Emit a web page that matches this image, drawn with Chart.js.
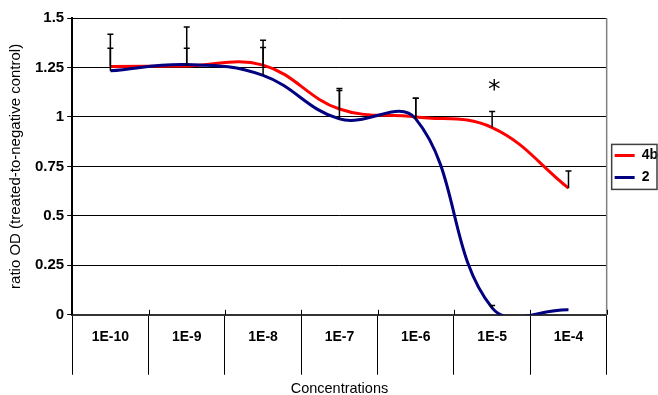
<!DOCTYPE html>
<html>
<head>
<meta charset="utf-8">
<script src="https://cdn.jsdelivr.net/npm/chart.js@4"></script>
<style>
body { margin: 0; background: #fff; }
</style>
</head>
<body>
<canvas id="myChart" width="658" height="395"></canvas>
<script>
// concentrations on the x axis
var categories = ['1E-10', '1E-9', '1E-8', '1E-7', '1E-6', '1E-5', '1E-4'];
// ratio OD, compound 4b and its error (upper bar only)
var series4b = [1.255, 1.258, 1.262, 1.04, 1.0, 0.946, 0.64];
var err4b = [0.092, 0.089, 0.089, 0.094, 0.095, 0.082, 0.087];
// ratio OD, compound 2 and its error
var series2 = [1.233, 1.265, 1.21, 0.99, 0.99, 0.035, 0.025];
var err2 = [0.185, 0.19, 0.178, 0.154, 0.105, 0.012, 0];
var yTicks = [0, 0.25, 0.5, 0.75, 1, 1.25, 1.5];
// significance mark
var starCategory = '1E-5';
var starValue = 1.155;

var FONT = "'Liberation Sans', Arial, sans-serif";

// error bars, asterisk, plot border and legend box
var extras = {
    id: 'extras',
    afterDatasetsDraw: function (chart) {
        var ctx = chart.ctx;
        var x = chart.scales.x, y = chart.scales.y;
        ctx.save();
        ctx.strokeStyle = '#000';
        ctx.lineWidth = 1.5;
        [[series4b, err4b], [series2, err2]].forEach(function (s) {
            s[0].forEach(function (v, i) {
                if (!s[1][i]) return;
                var px = x.getPixelForValue(i);
                var y0 = y.getPixelForValue(v);
                var y1 = y.getPixelForValue(v + s[1][i]);
                ctx.beginPath();
                ctx.moveTo(px, y0);
                ctx.lineTo(px, y1);
                ctx.moveTo(px - 3, y1);
                ctx.lineTo(px + 3, y1);
                ctx.stroke();
            });
        });
        // asterisk
        ctx.fillStyle = '#000';
        ctx.font = "25px 'DejaVu Sans'";
        ctx.textAlign = 'center';
        ctx.textBaseline = 'alphabetic';
        ctx.fillText('*', x.getPixelForValue(categories.indexOf(starCategory)) + 2, y.getPixelForValue(starValue) + 11);
        ctx.restore();
    },
    afterDraw: function (chart) {
        var ctx = chart.ctx;
        var x = chart.scales.x;
        var area = chart.chartArea;
        ctx.save();
        // right edge of the plot
        ctx.strokeStyle = '#808080';
        ctx.lineWidth = 1.5;
        ctx.beginPath();
        ctx.moveTo(area.right, area.top);
        ctx.lineTo(area.right, area.bottom);
        ctx.stroke();
        // small cross ticks above the category axis
        ctx.strokeStyle = '#000';
        ctx.lineWidth = 1;
        for (var i = 0; i <= categories.length; i++) {
            var bx = Math.round(x.getPixelForValue(i - 0.5)) + 0.5;
            ctx.beginPath();
            ctx.moveTo(bx, area.bottom - 5);
            ctx.lineTo(bx, area.bottom);
            ctx.stroke();
        }
        // legend frame
        var hb = chart.legend.legendHitBoxes;
        if (hb && hb.length) {
            var l = hb[0].left - 3;
            var t = hb[0].top - 4;
            var b = hb[hb.length - 1].top + hb[hb.length - 1].height + 5;
            ctx.strokeStyle = '#404040';
            ctx.lineWidth = 1.5;
            ctx.strokeRect(l, t, chart.width - 1 - l, b - t);
        }
        ctx.restore();
    }
};

var ctx = document.getElementById('myChart').getContext('2d');
var myChart = new Chart(ctx, {
    type: 'line',
    data: {
        labels: categories,
        datasets: [{
            label: '4b',
            data: series4b,
            borderColor: '#ff0000',
            backgroundColor: '#ff0000',
            borderWidth: 3,
            pointRadius: 0,
            tension: 0.4,
            order: 1
        }, {
            label: '2',
            data: series2,
            borderColor: '#000080',
            backgroundColor: '#000080',
            borderWidth: 3,
            pointRadius: 0,
            tension: 0.4,
            order: 0
        }]
    },
    options: {
        responsive: false,
        animation: false,
        devicePixelRatio: 1,
        elements: { line: { capBezierPoints: false } },
        layout: { padding: { left: 0, top: 18, right: -10, bottom: 0 } },
        plugins: {
            tooltip: { enabled: false },
            legend: {
                position: 'right',
                fullSize: false,
                labels: {
                    usePointStyle: true,
                    pointStyle: 'line',
                    pointStyleWidth: 20,
                    padding: 8,
                    color: '#000',
                    font: { family: FONT, size: 14, weight: 'bold' },
                    sort: function (a, b) { return a.datasetIndex - b.datasetIndex; }
                }
            }
        },
        scales: {
            x: {
                offset: true,
                grid: {
                    offset: true,
                    drawOnChartArea: false,
                    tickLength: 60,
                    color: '#000'
                },
                border: { color: '#333', width: 2 },
                ticks: {
                    autoSkip: false,
                    maxRotation: 0,
                    padding: -46,
                    color: '#000',
                    font: { family: FONT, size: 14, weight: 'bold' }
                },
                title: {
                    display: true,
                    text: 'Concentrations',
                    color: '#000',
                    padding: { top: 81, bottom: -3 },
                    font: { family: FONT, size: 14.5 }
                }
            },
            y: {
                min: 0,
                max: 1.5,
                afterBuildTicks: function (axis) {
                    axis.ticks = yTicks.map(function (v) { return { value: v }; });
                },
                grid: { color: '#000', tickLength: 5 },
                border: { color: '#000', width: 2 },
                ticks: {
                    padding: 3,
                    color: '#000',
                    font: { family: FONT, size: 15, weight: 'bold' },
                    callback: function (v) { return String(v); }
                },
                title: {
                    display: true,
                    text: 'ratio OD (treated-to-negative control)',
                    color: '#000',
                    padding: { top: 7, bottom: 7 },
                    font: { family: FONT, size: 15 }
                }
            }
        }
    },
    plugins: [extras]
});
</script>
</body>
</html>
